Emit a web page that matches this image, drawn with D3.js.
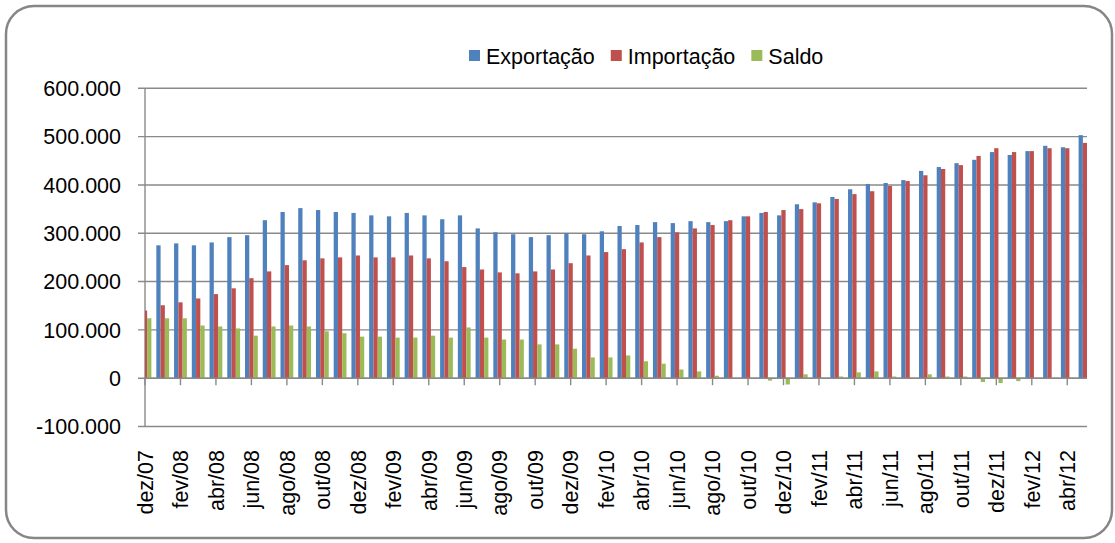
<!DOCTYPE html>
<html lang="pt">
<head>
<meta charset="UTF-8">
<title>Exportação, Importação e Saldo</title>
<script src="https://d3js.org/d3.v7.min.js"></script>
<style>
  body { margin: 0; background: #ffffff; }
  svg text { font-family: "Liberation Sans", Arial, sans-serif; fill: #000000; }
  .grid line { stroke: #8a8a8a; stroke-width: 1.4; }
</style>
</head>
<body>
<div id="chart"></div>
<script>
// categorias (meses)
const meses = [
  "dez/07",
  "jan/08","fev/08","mar/08","abr/08","mai/08","jun/08","jul/08","ago/08","set/08","out/08","nov/08","dez/08",
  "jan/09","fev/09","mar/09","abr/09","mai/09","jun/09","jul/09","ago/09","set/09","out/09","nov/09","dez/09",
  "jan/10","fev/10","mar/10","abr/10","mai/10","jun/10","jul/10","ago/10","set/10","out/10","nov/10","dez/10",
  "jan/11","fev/11","mar/11","abr/11","mai/11","jun/11","jul/11","ago/11","set/11","out/11","nov/11","dez/11",
  "jan/12","fev/12","mar/12","abr/12","mai/12"
];

// valores
const exportacao = [
  264000,
  275000, 279000, 275000, 281000, 292000, 296000, 327000, 344000, 352000, 348000, 344000, 342000,
  337000, 335000, 342000, 337000, 329000, 337000, 310000, 302000, 298000, 292000, 296000, 300000,
  298000, 304000, 315000, 317000, 323000, 321000, 325000, 323000, 325000, 335000, 342000, 337000,
  360000, 364000, 375000, 391000, 402000, 404000, 410000, 429000, 437000, 445000, 452000, 468000,
  462000, 470000, 481000, 478000, 503000
];
const importacao = [
  140000,
  151000, 157000, 165000, 174000, 186000, 207000, 221000, 234000, 244000, 248000, 250000, 254000,
  250000, 250000, 254000, 248000, 242000, 230000, 225000, 219000, 217000, 221000, 225000, 238000,
  254000, 261000, 267000, 281000, 292000, 302000, 310000, 317000, 327000, 335000, 344000, 348000,
  350000, 362000, 371000, 381000, 387000, 398000, 408000, 420000, 433000, 441000, 460000, 476000,
  468000, 470000, 476000, 476000, 487000
];
const saldo = [
  124000,
  124000, 124000, 109000, 107000, 103000, 88000, 107000, 109000, 107000, 97000, 93000, 86000,
  86000, 84000, 84000, 88000, 84000, 105000, 84000, 80000, 80000, 70000, 70000, 61000,
  43000, 43000, 47000, 35000, 30000, 18000, 14000, 5000, -1000, 0, -5000, -13000,
  8000, 0, 3500, 12000, 14000, 3500, 0, 8000, 3500, 3500, -8000, -10000,
  -6000, 0, 0, 1000, 16000
];

const series = ["Exportação", "Importação", "Saldo"];
const cores = ["#4F81BD", "#C0504D", "#9BBB59"];
const yTicks = [-100000, 0, 100000, 200000, 300000, 400000, 500000, 600000];

const W = 1115, H = 543;
const plot = { left: 145, right: 1087, top: 88, bottom: 427 };
const fonte = "21.5px";

const svg = d3.select("#chart").append("svg")
  .attr("width", W)
  .attr("height", H);

// moldura arredondada
svg.append("rect")
  .attr("x", 6).attr("y", 6)
  .attr("width", 1106).attr("height", 532)
  .attr("rx", 28).attr("ry", 28)
  .attr("fill", "#ffffff")
  .attr("stroke", "#868686")
  .attr("stroke-width", 2.5);

const ptBR = d3.formatLocale({ decimal: ",", thousands: ".", grouping: [3], currency: ["R$", ""], minus: "-" });
const fmt = ptBR.format(",.0f");

// escalas
const x = d3.scalePoint().domain(meses).range([145, 1085]);
const xSub = d3.scaleBand().domain(series).range([-6.4, 6.4]);
const y = d3.scaleLinear().domain([-100000, 600000]).range([426.5, 88.3]);

// grade horizontal
const grid = svg.append("g").attr("class", "grid");
grid.selectAll("line")
  .data(yTicks)
  .join("line")
  .attr("x1", plot.left - 7)
  .attr("x2", plot.right)
  .attr("y1", d => y(d))
  .attr("y2", d => y(d));

// eixo Y
svg.append("line")
  .attr("x1", plot.left).attr("x2", plot.left)
  .attr("y1", y(600000)).attr("y2", y(-100000))
  .attr("stroke", "#8a8a8a").attr("stroke-width", 1.4);

svg.append("g")
  .selectAll("text")
  .data(yTicks)
  .join("text")
  .attr("x", 121)
  .attr("y", d => y(d))
  .attr("dy", "0.36em")
  .attr("text-anchor", "end")
  .attr("font-size", fonte)
  .text(d => fmt(d));

// barras
svg.append("defs").append("clipPath").attr("id", "clip")
  .append("rect")
  .attr("x", plot.left).attr("y", plot.top - 5)
  .attr("width", plot.right - plot.left).attr("height", plot.bottom - plot.top + 5);

const tabela = meses.map((m, i) => ({
  mes: m,
  valores: [exportacao[i], importacao[i], saldo[i]]
}));

const barras = svg.append("g").attr("clip-path", "url(#clip)");
series.forEach((s, k) => {
  barras.append("g")
    .attr("fill", cores[k])
    .selectAll("rect")
    .data(tabela)
    .join("rect")
    .attr("x", d => x(d.mes) + xSub(s))
    .attr("width", xSub.bandwidth())
    .attr("y", d => Math.min(y(d.valores[k]), y(0)))
    .attr("height", d => Math.abs(y(d.valores[k]) - y(0)));
});

// linha do zero com marcas a cada 2 meses
svg.append("line")
  .attr("x1", plot.left).attr("x2", plot.right)
  .attr("y1", y(0)).attr("y2", y(0))
  .attr("stroke", "#8a8a8a").attr("stroke-width", 1.4);

const rotulos = meses.filter((m, i) => i % 2 === 0);

svg.append("g")
  .selectAll("line")
  .data(rotulos)
  .join("line")
  .attr("x1", d => x(d)).attr("x2", d => x(d))
  .attr("y1", y(0)).attr("y2", y(0) + 7)
  .attr("stroke", "#8a8a8a").attr("stroke-width", 1.4);

// rótulos do eixo X (verticais)
svg.append("g")
  .selectAll("text")
  .data(rotulos)
  .join("text")
  .attr("transform", d => `translate(${x(d)},450) rotate(-90)`)
  .attr("dy", "0.36em")
  .attr("text-anchor", "end")
  .attr("font-size", fonte)
  .text(d => d);

// legenda
const legenda = svg.append("g").attr("transform", "translate(469,0)");
let lx = 0;
series.forEach((s, k) => {
  legenda.append("rect")
    .attr("x", lx).attr("y", 50)
    .attr("width", 11).attr("height", 11)
    .attr("fill", cores[k]);
  const t = legenda.append("text")
    .attr("x", lx + 17)
    .attr("y", 64)
    .attr("font-size", fonte)
    .text(s);
  lx += 17 + t.node().getComputedTextLength() + 16;
});
</script>
</body>
</html>
